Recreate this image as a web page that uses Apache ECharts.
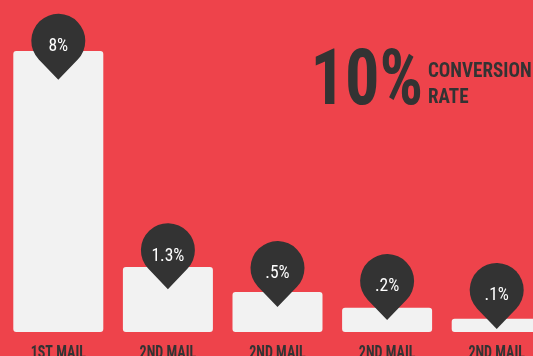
<!DOCTYPE html>
<html>
<head>
<meta charset="utf-8">
<script src="https://cdn.jsdelivr.net/npm/echarts@6/dist/echarts.min.js"></script>
<style>
html,body{margin:0;padding:0;background:#EE434B;}
#chart{width:533px;height:356px;}
</style>
</head>
<body>
<div id="chart"></div>
<script>
const categories = ['1ST MAIL', '2ND MAIL', '2ND MAIL', '2ND MAIL', '2ND MAIL'];
const rateLabels = ['8%', '1.3%', '.5%', '.2%', '.1%'];
const barHeights = [8, 1.85, 1.14, 0.69, 0.38];
const pinLevels = [7.18, 1.22, 0.71, 0.34, 0.085];
const headline = '10%';
const headlineCaption = ['CONVERSION', 'RATE'];

const FONT = "'Roboto Condensed', 'Open Sans', sans-serif";
const DARK = '#333333';
const chart = echarts.init(document.getElementById('chart'));
chart.setOption({
  backgroundColor: '#EE434B',
  animation: false,
  graphic: [
    {
      type: 'text', x: 310.6, y: 84.4, scaleX: 0.875,
      style: { text: headline, fontFamily: FONT, fontSize: 78, fontWeight: 'bold', fill: DARK, align: 'left', verticalAlign: 'middle' }
    },
    {
      type: 'text', x: 428, y: 72, scaleX: 0.93,
      style: { text: headlineCaption[0], fontFamily: FONT, fontSize: 20.5, fontWeight: 'bold', fill: DARK, align: 'left', verticalAlign: 'middle' }
    },
    {
      type: 'text', x: 428, y: 98, scaleX: 0.93,
      style: { text: headlineCaption[1], fontFamily: FONT, fontSize: 20.5, fontWeight: 'bold', fill: DARK, align: 'left', verticalAlign: 'middle' }
    }
  ],
  grid: { left: 3.5, right: -18.5, top: 0, bottom: 24, containLabel: false, outerBoundsMode: 'none' },
  xAxis: {
    type: 'category', data: categories,
    axisLine: { show: false }, axisTick: { show: false }, axisLabel: { show: false }
  },
  yAxis: {
    type: 'value', min: 0, max: 9.452, show: false
  },
  series: [
    {
      type: 'bar', data: barHeights, barWidth: 90,
      itemStyle: { color: '#F2F2F2', borderRadius: 3 },
      z: 1
    },
    {
      type: 'scatter', data: pinLevels,
      symbol: 'path://M-19.5,18.7A27,27,0,1,1,19.5,18.7L0,39Z',
      symbolSize: [54, 66], symbolOffset: [0, -33],
      itemStyle: { color: DARK, opacity: 1 },
      label: {
        show: true, position: 'inside', offset: [0, 0],
        formatter: p => rateLabels[p.dataIndex],
        fontFamily: FONT, fontSize: 17.5, color: '#FFFFFF'
      },
      z: 3
    },
    {
      type: 'custom', clip: false, z: 4,
      data: categories,
      renderItem: (params, api) => {
        const pt = api.coord([params.dataIndex, 0]);
        return {
          type: 'text', x: pt[0], y: pt[1] + 21, scaleX: 0.74,
          style: { text: categories[params.dataIndex], fontFamily: FONT, fontSize: 19, fontWeight: 'bold', fill: DARK, align: 'center', verticalAlign: 'middle' }
        };
      }
    }
  ]
});
</script>
</body>
</html>
